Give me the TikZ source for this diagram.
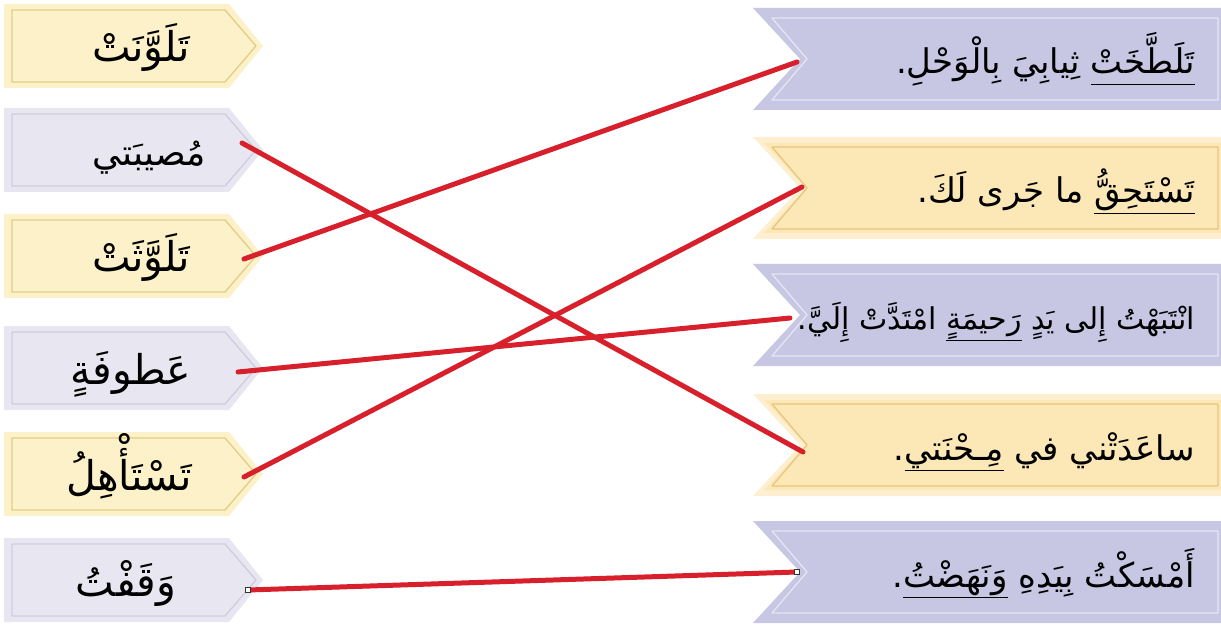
\documentclass[tikz,border=0pt]{standalone}
\usepackage{fontspec}
\TeXXeTstate=1
\newfontfamily\arabicfont[Script=Arabic]{DejaVu Sans}
\definecolor{tagYline}{HTML}{E3CE86}
\definecolor{tagYout}{HTML}{FCF1C8}
\definecolor{tagLline}{HTML}{CDCDDF}
\definecolor{tagLout}{HTML}{E8E7F1}
\definecolor{banLfill}{HTML}{C7C6E3}
\definecolor{banLline}{HTML}{E6E5F4}
\definecolor{banYfill}{HTML}{FCE7B6}
\definecolor{banYline}{HTML}{E7C67E}
\definecolor{banYout}{HTML}{FDEFD0}
\definecolor{linkred}{HTML}{D7202B}
\newcommand\myul[1]{\setbox0=\hbox{#1}\hbox{\rlap{\rule[-11bp]{\wd0}{1.4bp}}\box0}}
\newcommand\lefttag[3]{%
  \fill[#2] (4,#1-42) -- (229,#1-42) -- (263,#1) -- (229,#1+42) -- (4,#1+42) -- cycle;
  \draw[tagborder,#3] (12,#1-36) -- (225,#1-36) -- (256,#1) -- (225,#1+36) -- (12,#1+36) -- cycle;}
\newcommand\banner[4]{%
  \fill[#2] (753,#1-51) -- (1230,#1-51) -- (1230,#1+51) -- (753,#1+51) -- (800,#1) -- cycle;
  \fill[#4] (764,#1-45) -- (1230,#1-45) -- (1230,#1+45) -- (764,#1+45) -- (806,#1) -- cycle;
  \draw[tagborder,#3] (772,#1-41) -- (1218,#1-41) -- (1218,#1+41) -- (772,#1+41) -- (807,#1) -- cycle;}
\begin{document}
\begin{tikzpicture}[x=1bp,y=-1bp,
  tagborder/.style={line width=1.3bp,line join=round},
  lefttext/.style={anchor=base,inner sep=0pt,font=\arabicfont\fontsize{41bp}{48bp}\selectfont},
  righttext/.style={anchor=base east,inner sep=0pt,font=\arabicfont\fontsize{34bp}{40bp}\selectfont},
  link/.style={draw=linkred,line width=5bp,line cap=round},
  handle/.style={draw=black!80,fill=white,line width=0.6bp,minimum size=5bp,inner sep=0pt}]
\useasboundingbox (0,0) rectangle (1221,627);
% left tags
\lefttag{46}{tagYout}{draw=tagYline}
\lefttag{150}{tagLout}{draw=tagLline}
\lefttag{256}{tagYout}{draw=tagYline}
\lefttag{368}{tagLout}{draw=tagLline}
\lefttag{474}{tagYout}{draw=tagYline}
\lefttag{580}{tagLout}{draw=tagLline}
% right banners
\banner{59}{banLfill}{draw=banLline}{banLfill}
\banner{188}{banYout}{draw=banYline}{banYfill}
\banner{315}{banLfill}{draw=banLline}{banLfill}
\banner{445}{banYout}{draw=banYline}{banYfill}
\banner{572}{banLfill}{draw=banLline}{banLfill}
% left words
\node[lefttext] (w1) at (141,62) {\beginR تَلَوَّنَتْ\endR};
\node[lefttext,font=\arabicfont\fontsize{36bp}{42bp}\selectfont] (w2) at (149,166) {\beginR مُصيبَتي\endR};
\node[lefttext] (w3) at (141,272) {\beginR تَلَوَّثَتْ\endR};
\node[lefttext] (w4) at (131,384) {\beginR عَطوفَةٍ\endR};
\node[lefttext] (w5) at (129,490) {\beginR تَسْتَأْهِلُ\endR};
\node[lefttext] (w6) at (126,596) {\beginR وَقَفْتُ\endR};
% right sentences
\node[righttext] (s1) at (1195,74) {\beginR\myul{تَلَطَّخَتْ} ثِيابِيَ بِالْوَحْلِ.\endR};
\node[righttext] (s2) at (1195,203) {\beginR\myul{تَسْتَحِقُّ} ما جَرى لَكَ.\endR};
\node[righttext,font=\arabicfont\fontsize{30bp}{36bp}\selectfont] (s3) at (1195,330) {\beginR انْتَبَهْتُ إِلى يَدٍ \myul{رَحيمَةٍ} امْتَدَّتْ إِلَيَّ.\endR};
\node[righttext] (s4) at (1195,460) {\beginR ساعَدَتْني في \myul{مِـحْنَتي}.\endR};
\node[righttext] (s5) at (1195,587) {\beginR أَمْسَكْتُ بِيَدِهِ \myul{وَنَهَضْتُ}.\endR};
% connector end points
\coordinate (t2) at (242,143);
\coordinate (t3) at (244,259);
\coordinate (t4) at (238,372);
\coordinate (t5) at (244,477);
\coordinate (t6) at (248,590);
\coordinate (b1) at (797,62);
\coordinate (b2) at (802,187);
\coordinate (b3) at (790,318);
\coordinate (b4) at (803,452);
\coordinate (b5) at (797,572);
\draw[link] (t3) -- (b1);
\draw[link] (t2) -- (b4);
\draw[link] (t5) -- (b2);
\draw[link] (t4) -- (b3);
\draw[link,line cap=butt] (t6) -- (b5);
\node[handle] (h1) at (t6) {};
\node[handle] (h2) at (b5) {};
\end{tikzpicture}
\end{document}
